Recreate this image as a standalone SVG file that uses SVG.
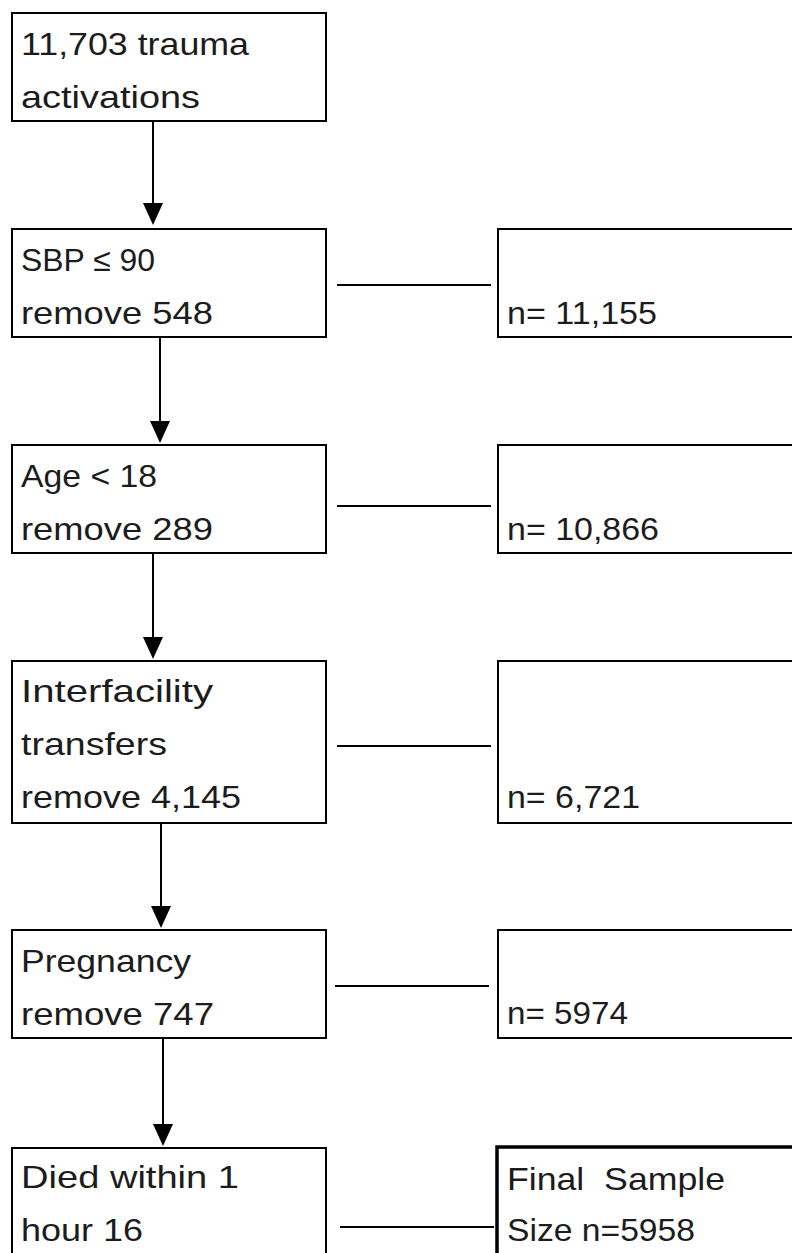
<svg xmlns="http://www.w3.org/2000/svg" width="792" height="1253" viewBox="0 0 792 1253">
<style>
  .box { fill: #ffffff; stroke: #000000; stroke-width: 2; }
  .final { fill: #ffffff; stroke: #000000; stroke-width: 3.5; }
  .t { font-family: "Liberation Sans", Arial, sans-serif; font-size: 32px; fill: #1c1c1c; }
  .line { stroke: #000000; stroke-width: 2; fill: none; }
</style>
<defs>
  <marker id="arr" viewBox="0 0 10 10" refX="10" refY="5" markerWidth="10" markerHeight="10" markerUnits="userSpaceOnUse" orient="auto">
    <path d="M0,0 L10,5 L0,10 Z" fill="#000000"/>
  </marker>
</defs>
<rect width="792" height="1253" fill="#ffffff"/>

<g id="connectors">
  <line class="line" x1="153" y1="121" x2="153" y2="204"/>
  <path d="M143,203 L163,203 L153,225 Z" fill="#000"/>
  <line class="line" x1="160" y1="337" x2="160" y2="422"/>
  <path d="M150,421 L170,421 L160,443 Z" fill="#000"/>
  <line class="line" x1="153" y1="553" x2="153" y2="638"/>
  <path d="M143,637 L163,637 L153,659 Z" fill="#000"/>
  <line class="line" x1="161" y1="823" x2="161" y2="907"/>
  <path d="M151,906 L171,906 L161,928 Z" fill="#000"/>
  <line class="line" x1="163" y1="1039" x2="163" y2="1125"/>
  <path d="M153,1124 L173,1124 L163,1146 Z" fill="#000"/>

  <line class="line" x1="337" y1="285" x2="491" y2="285"/>
  <line class="line" x1="337" y1="506" x2="491" y2="506"/>
  <line class="line" x1="337" y1="746" x2="491" y2="746"/>
  <line class="line" x1="335" y1="986" x2="489" y2="986"/>
  <line class="line" x1="340" y1="1227" x2="494" y2="1227"/>
</g>

<g id="n1">
  <rect class="box" x="12" y="13" width="314" height="108"/>
  <text class="t" x="21" y="55" textLength="228" lengthAdjust="spacingAndGlyphs">11,703 trauma</text>
  <text class="t" x="21" y="108" textLength="179" lengthAdjust="spacingAndGlyphs">activations</text>
</g>

<g id="n2">
  <rect class="box" x="12" y="229" width="314" height="108"/>
  <text class="t" x="21" y="271" textLength="134" lengthAdjust="spacingAndGlyphs">SBP ≤ 90</text>
  <text class="t" x="21" y="324" textLength="192" lengthAdjust="spacingAndGlyphs">remove 548</text>
</g>
<g id="r2">
  <rect class="box" x="498" y="229" width="310" height="108"/>
  <text class="t" x="507" y="324" textLength="150" lengthAdjust="spacingAndGlyphs">n= 11,155</text>
</g>

<g id="n3">
  <rect class="box" x="12" y="445" width="314" height="108"/>
  <text class="t" x="21" y="487" textLength="136" lengthAdjust="spacingAndGlyphs">Age &lt; 18</text>
  <text class="t" x="21" y="540" textLength="192" lengthAdjust="spacingAndGlyphs">remove 289</text>
</g>
<g id="r3">
  <rect class="box" x="498" y="445" width="310" height="108"/>
  <text class="t" x="507" y="540" textLength="152" lengthAdjust="spacingAndGlyphs">n= 10,866</text>
</g>

<g id="n4">
  <rect class="box" x="12" y="661" width="314" height="162"/>
  <text class="t" x="21" y="702" textLength="192" lengthAdjust="spacingAndGlyphs">Interfacility</text>
  <text class="t" x="21" y="755" textLength="146" lengthAdjust="spacingAndGlyphs">transfers</text>
  <text class="t" x="21" y="808" textLength="220" lengthAdjust="spacingAndGlyphs">remove 4,145</text>
</g>
<g id="r4">
  <rect class="box" x="498" y="661" width="310" height="162"/>
  <text class="t" x="507" y="808" textLength="133" lengthAdjust="spacingAndGlyphs">n= 6,721</text>
</g>

<g id="n5">
  <rect class="box" x="12" y="930" width="314" height="108"/>
  <text class="t" x="21" y="972" textLength="170" lengthAdjust="spacingAndGlyphs">Pregnancy</text>
  <text class="t" x="21" y="1025" textLength="193" lengthAdjust="spacingAndGlyphs">remove 747</text>
</g>
<g id="r5">
  <rect class="box" x="498" y="930" width="310" height="108"/>
  <text class="t" x="507" y="1024" textLength="121" lengthAdjust="spacingAndGlyphs">n= 5974</text>
</g>

<g id="n6">
  <rect class="box" x="12" y="1148" width="314" height="130"/>
  <text class="t" x="21" y="1188" textLength="218" lengthAdjust="spacingAndGlyphs">Died within 1</text>
  <text class="t" x="21" y="1241" textLength="122" lengthAdjust="spacingAndGlyphs">hour 16</text>
</g>
<g id="final">
  <rect class="final" x="497" y="1147" width="320" height="130"/>
  <text class="t" x="507" y="1190" textLength="218" lengthAdjust="spacingAndGlyphs" xml:space="preserve">Final  Sample</text>
  <text class="t" x="507" y="1241" textLength="188" lengthAdjust="spacingAndGlyphs">Size n=5958</text>
</g>
</svg>
